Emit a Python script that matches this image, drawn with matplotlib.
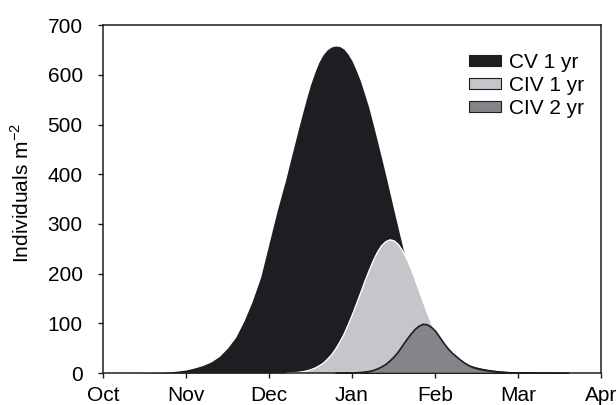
import matplotlib.pyplot as plt
from matplotlib.patches import Patch

plt.rcParams['font.family'] = ['Liberation Sans', 'DejaVu Sans']
plt.rcParams['mathtext.fontset'] = 'custom'
plt.rcParams['mathtext.rm'] = 'Liberation Sans'
plt.rcParams['font.size'] = 15

months = ['Oct', 'Nov', 'Dec', 'Jan', 'Feb', 'Mar', 'Apr']

# time in months after 1 Oct, abundance in individuals per m2
cv1_t = [0.3, 0.6, 0.7, 0.8, 0.9, 1.0, 1.1, 1.2, 1.3, 1.4, 1.5, 1.6, 1.7, 1.8, 1.9,
         2.0, 2.05, 2.1, 2.15, 2.2, 2.25, 2.3, 2.35, 2.4, 2.45, 2.5, 2.55, 2.6,
         2.65, 2.7, 2.75, 2.8, 2.85, 2.9, 2.95, 3.0, 3.05, 3.1, 3.15, 3.2, 3.25,
         3.3, 3.35, 3.4, 3.45, 3.5, 3.55, 3.6, 3.7, 3.8, 3.9, 4.0, 4.1, 4.2, 4.3,
         4.4, 4.5, 4.6, 4.7, 4.8, 4.9, 5.0, 5.2, 5.6]
cv1_n = [0, 0.5, 1, 2, 4, 6, 10, 15, 22, 33, 50, 72, 105, 145, 193,
         260, 294, 327, 358, 388, 422, 455, 488, 520, 551, 580, 604, 625,
         640, 650, 656, 658, 657, 652, 642, 628, 609, 588, 562, 535, 503,
         470, 436, 402, 366, 330, 295, 260, 190, 140, 100, 70, 48, 33, 24,
         17, 12, 8.5, 6, 4, 2.5, 1.5, 0.6, 0]

civ1_t = [2.2, 2.3, 2.35, 2.4, 2.45, 2.5, 2.55, 2.6, 2.65, 2.7, 2.75, 2.8, 2.85, 2.9,
          2.95, 3.0, 3.05, 3.1, 3.15, 3.2, 3.25, 3.3, 3.35, 3.4, 3.45, 3.5, 3.55,
          3.6, 3.65, 3.7, 3.75, 3.8, 3.85, 3.9, 3.95, 4.0, 4.05, 4.1, 4.15, 4.2,
          4.25, 4.3, 4.35, 4.4, 4.45, 4.5, 4.55, 4.6, 4.8]
civ1_n = [0, 1.5, 2.3, 3.5, 5.2, 7.7, 11, 15.5, 21, 29, 38, 50, 64, 80,
          99, 119, 141, 163, 186, 207, 227, 244, 257, 265, 269, 267, 260,
          248, 232, 213, 191, 168, 145, 122, 101, 82, 65, 51, 39, 29,
          21, 15, 10.6, 7.3, 4.9, 3.3, 2.1, 1.4, 0]

civ2_t = [2.8, 3.0, 3.05, 3.1, 3.15, 3.2, 3.25, 3.3, 3.35, 3.4, 3.45, 3.5, 3.55, 3.6,
          3.65, 3.7, 3.75, 3.8, 3.85, 3.9, 3.95, 4.0, 4.05, 4.1, 4.15, 4.2, 4.25,
          4.3, 4.35, 4.4, 4.45, 4.5, 4.55, 4.6, 4.65, 4.7, 4.8, 4.9, 5.0, 5.2, 5.6]
civ2_n = [0, 1, 1.5, 2, 3, 4, 6, 9, 13, 18, 25, 33, 43, 55,
          67, 78, 88, 95, 99, 98, 93, 85, 73, 61, 50, 41, 34,
          27, 21, 16, 12, 9.5, 7.5, 6, 5, 4, 2.5, 1.5, 1, 0.5, 0]

ink = '#1d1e22'
c_cv1 = '#1d1e22'
c_civ1 = '#c4c6c9'
c_civ2 = '#858489'

fig = plt.figure(figsize=(6.16, 4.05), dpi=100)
ax = fig.add_axes([0.167, 0.079, 0.809, 0.859])

ax.fill_between(cv1_t, cv1_n, color=c_cv1, lw=0, zorder=1)
ax.fill_between(civ1_t, civ1_n, facecolor=c_civ1, edgecolor='white', lw=1.0, zorder=2)
ax.fill_between(civ2_t, civ2_n, facecolor=c_civ2, edgecolor=ink, lw=1.2, zorder=3)

ax.set_xlim(0, 6)
ax.set_ylim(0, 700)
ax.set_xticks(range(len(months)))
ax.set_xticklabels(months)
ax.set_yticks(range(0, 701, 100))

for s in ax.spines.values():
    s.set_color(ink)
    s.set_linewidth(1.1)
ax.tick_params(axis='x', direction='out', length=3.5, width=1.0, color=ink, pad=5.5)
ax.tick_params(axis='y', direction='out', length=3.5, width=1.0, color=ink, pad=11)

fig.text(0.035, 1 - 193 / 405, 'Individuals m$^{-2}$', rotation=90,
         ha='center', va='center')

handles = [Patch(facecolor=c_cv1, edgecolor=ink, lw=0.8),
           Patch(facecolor=c_civ1, edgecolor=ink, lw=0.8),
           Patch(facecolor=c_civ2, edgecolor=ink, lw=0.8)]
ax.legend(handles, ['CV 1 yr', 'CIV 1 yr', 'CIV 2 yr'], frameon=False,
          loc='upper left', bbox_to_anchor=(0.735, 0.92), borderpad=0,
          borderaxespad=0, handlelength=1.55, handleheight=0.42,
          handletextpad=0.35, labelspacing=0.2, fontsize=15)

fig.savefig('out.png', dpi=100)
